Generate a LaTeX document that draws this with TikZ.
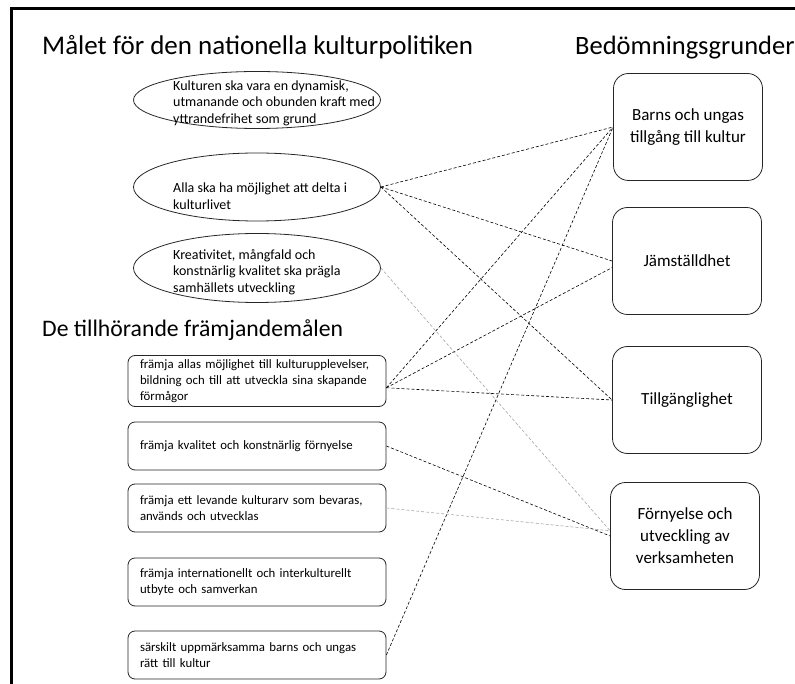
\documentclass[tikz,border=0pt]{standalone}
\usepackage{fontspec}
\setmainfont{Carlito}
\usetikzlibrary{shapes.geometric}

\begin{document}
\begin{tikzpicture}[x=1pt, y=-1pt,
    mal/.style={draw=black!85, ellipse, line width=0.8pt,
      minimum width=247pt, inner sep=0pt},
    maltext/.style={anchor=west, align=left, inner sep=0pt,
      font=\fontsize{14}{16.5}\selectfont},
    framj/.style={draw=black!85, rounded corners=7pt, line width=0.8pt,
      minimum width=258pt, minimum height=48pt, text width=240pt,
      inner xsep=9pt, align=left, font=\fontsize{12.8}{16}\selectfont},
    grund/.style={draw=black!85, rounded corners=15pt, line width=0.8pt,
      minimum width=149pt, minimum height=107pt, align=center,
      font=\fontsize{17}{22}\selectfont},
    rubrik/.style={anchor=base west, inner sep=0pt,
      font=\fontsize{27}{30}\selectfont},
    streck/.style={dash pattern=on 3pt off 2pt, line width=0.6pt},
    ljus/.style={streck, draw=black!35}]
  \useasboundingbox (0,0) rectangle (795,684);
  \draw[line width=3pt, line cap=butt] (11,684) -- (11,9) -- (795,9);

  % rubriker
  \node[rubrik] (T1) at (42,55) {Målet för den nationella kulturpolitiken};
  \node[rubrik, font=\fontsize{26.5}{30}\selectfont] (T2) at (575,55)
    {Bedömningsgrunder};
  \node[rubrik, font=\fontsize{23.7}{27}\selectfont] (T3) at (42,337)
    {De tillhörande främjandemålen};

  % mål
  \node[mal, minimum height=57pt] (M1) at (257,100) {};
  \node[mal, minimum height=68pt] (M2) at (257,187) {};
  \node[mal, minimum height=69pt] (M3) at (257,268) {};
  \node[maltext] (M1t) at (173,103) {Kulturen ska vara en dynamisk,\\
    utmanande och obunden kraft med\\ yttrandefrihet som grund};
  \node[maltext] (M2t) at (173,196) {Alla ska ha möjlighet att delta i\\
    kulturlivet};
  \node[maltext] (M3t) at (173,272) {Kreativitet, mångfald och\\
    konstnärlig kvalitet ska prägla\\ samhällets utveckling};

  % främjandemål
  \node[framj, minimum height=51pt] (F1) at (257,381)
    {\hspace*{3pt}främja allas möjlighet till kulturupplevelser,\\
    \hspace*{3pt}bildning och till att utveckla sina skapande\\
    \hspace*{3pt}förmågor};
  \node[framj] (F2) at (257,446)
    {\hspace*{3pt}främja kvalitet och konstnärlig förnyelse};
  \node[framj] (F3) at (257,508)
    {\hspace*{3pt}främja ett levande kulturarv som bevaras,\\
    \hspace*{3pt}används och utvecklas};
  \node[framj] (F4) at (257,582)
    {\hspace*{3pt}främja internationellt och interkulturellt\\
    \hspace*{3pt}utbyte och samverkan};
  \node[framj] (F5) at (257,655)
    {\hspace*{3pt}särskilt uppmärksamma barns och ungas\\
    \hspace*{3pt}rätt till kultur};

  % bedömningsgrunder
  \node[grund] (G1) at (688,127) {Barns och ungas\\ tillgång till kultur};
  \node[grund] (G2) at (687,261) {Jämställdhet};
  \node[grund] (G3) at (687,400) {Tillgänglighet};
  \node[grund] (G4) at (685,536) {Förnyelse och\\ utveckling av\\ verksamheten};

  % kopplingar
  \draw[streck] (M2.east) -- (G1.west);
  \draw[streck] (M2.east) -- (G2.west);
  \draw[streck] (M2.east) -- (G3.west);
  \draw[streck] (F1.-3) -- (G1.west);
  \draw[streck] (F1.-3) -- (G2.185);
  \draw[streck] (F1.-3) -- (G3.west);
  \draw[streck] (F2.east) -- (G4.west);
  \draw[streck] (F5.east) -- (G1.west);
  \draw[ljus] (M3.east) -- (G4.176);
  \draw[ljus] (F3.east) -- (G4.176);
\end{tikzpicture}
\end{document}
